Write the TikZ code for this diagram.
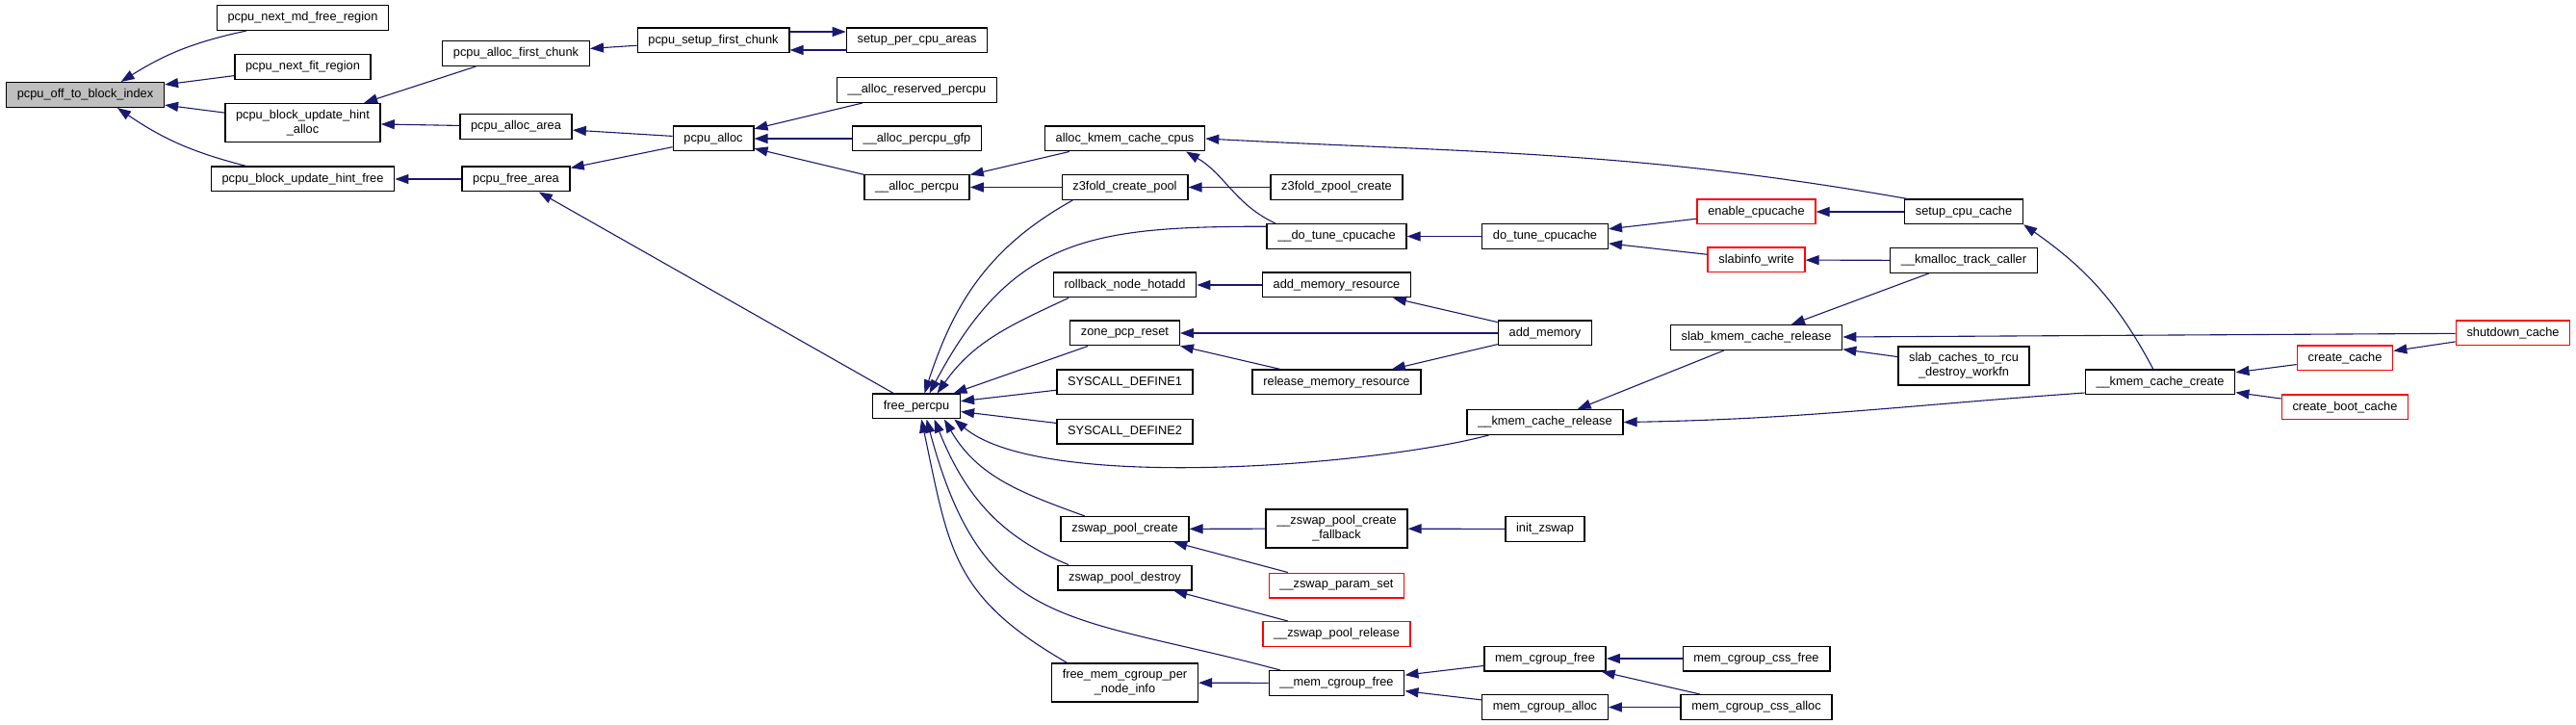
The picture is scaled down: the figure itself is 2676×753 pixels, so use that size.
\documentclass[tikz,border=0pt]{standalone}
\usepackage{fontspec}
\setmainfont{Liberation Sans}
\usetikzlibrary{arrows.meta}

\definecolor{edgeblue}{HTML}{191970}
\definecolor{rootgray}{HTML}{BFBFBF}

\tikzset{
  fn/.style={draw=black, line width=0.7pt, fill=white,
    font=\fontsize{6.4}{7.5}\selectfont, inner xsep=5.6pt, inner ysep=2pt,
    minimum height=12.8pt, align=center},
  fntwo/.style={fn, minimum height=20pt},
  fnred/.style={fn, draw=red},
  fnroot/.style={fn, fill=rootgray},
  call/.style={draw=edgeblue, line width=0.55pt, {Triangle[length=7pt,width=5pt]}-},
}

\begin{document}
\begin{tikzpicture}[x=0.5pt, y=-0.5pt] % 坐标按像素给出，y 轴向下

    \useasboundingbox (0,0) rectangle (2676,753);

    % 1. 根节点与第一列
    \node[fnroot] (off) at (88.5,98.5) {pcpu\_off\_to\_block\_index};

    % 2. 第二、三列
    \node[fn] (nextmd) at (314.5,18.5) {pcpu\_next\_md\_free\_region};
    \node[fn] (nextfit) at (314.5,69.5) {pcpu\_next\_fit\_region};
    \node[fntwo] (hintalloc) at (314.5,127.5) {pcpu\_block\_update\_hint\\\_alloc};
    \node[fn] (hintfree) at (314.5,186) {pcpu\_block\_update\_hint\_free};
    \node[fn] (firstchunk) at (536,55.5) {pcpu\_alloc\_first\_chunk};
    \node[fn] (allocarea) at (536,131.5) {pcpu\_alloc\_area};
    \node[fn] (freearea) at (536,186) {pcpu\_free\_area};

    % 3. 第四、五列
    \node[fn] (setupfirst) at (741,42) {pcpu\_setup\_first\_chunk};
    \node[fn] (pcpualloc) at (741,144) {pcpu\_alloc};
    \node[fn] (setupareas) at (952.5,42) {setup\_per\_cpu\_areas};
    \node[fn] (reserved) at (952.5,93.5) {\_\_alloc\_reserved\_percpu};
    \node[fn] (gfp) at (952.5,144) {\_\_alloc\_percpu\_gfp};
    \node[fn] (allocpercpu) at (952.5,194.5) {\_\_alloc\_percpu};
    \node[fn] (freepercpu) at (952,422) {free\_percpu};

    % 4. 第六列
    \node[fn] (kmemcpus) at (1168.5,144) {alloc\_kmem\_cache\_cpus};
    \node[fn] (z3create) at (1168.5,194.5) {z3fold\_create\_pool};
    \node[fn] (rollback) at (1168.5,296) {rollback\_node\_hotadd};
    \node[fn] (zonepcp) at (1168.5,346) {zone\_pcp\_reset};
    \node[fn] (sysone) at (1168.5,397) {SYSCALL\_DEFINE1};
    \node[fn] (systwo) at (1168.5,448) {SYSCALL\_DEFINE2};
    \node[fn] (zswapcreate) at (1168.5,549.5) {zswap\_pool\_create};
    \node[fn] (zswapdestroy) at (1168.5,600) {zswap\_pool\_destroy};
    \node[fntwo] (freememcg) at (1168.5,709) {free\_mem\_cgroup\_per\\\_node\_info};

    % 5. 第七列
    \node[fn] (z3zpool) at (1388.5,194.5) {z3fold\_zpool\_create};
    \node[fn] (dotunei) at (1388.5,245.5) {\_\_do\_tune\_cpucache};
    \node[fn] (addmemres) at (1388.5,296) {add\_memory\_resource};
    \node[fn] (relmemres) at (1388.5,397) {release\_memory\_resource};
    \node[fntwo] (fallback) at (1388.5,549) {\_\_zswap\_pool\_create\\\_fallback};
    \node[fnred] (paramset) at (1388.5,608) {\_\_zswap\_param\_set};
    \node[fnred] (poolrelease) at (1388.5,658.5) {\_\_zswap\_pool\_release};
    \node[fn] (memcgfreei) at (1388.5,709.5) {\_\_mem\_cgroup\_free};

    % 6. 第八列
    \node[fn] (dotune) at (1605,245.5) {do\_tune\_cpucache};
    \node[fn] (addmemory) at (1605,346) {add\_memory};
    \node[fn] (kmemrelease) at (1605,438.5) {\_\_kmem\_cache\_release};
    \node[fn] (initzswap) at (1605,549.5) {init\_zswap};
    \node[fn] (memcgfree) at (1605,684) {mem\_cgroup\_free};
    \node[fn] (memcgalloc) at (1605,734.5) {mem\_cgroup\_alloc};

    % 7. 第九、十列
    \node[fnred] (enablecpu) at (1824.5,220) {enable\_cpucache};
    \node[fnred] (slabinfo) at (1824.5,270) {slabinfo\_write};
    \node[fn] (slabrelease) at (1824.5,350.5) {slab\_kmem\_cache\_release};
    \node[fn] (cssfree) at (1824.5,684) {mem\_cgroup\_css\_free};
    \node[fn] (cssalloc) at (1824.5,734.5) {mem\_cgroup\_css\_alloc};
    \node[fn] (setupcpu) at (2040,220) {setup\_cpu\_cache};
    \node[fn] (kmalloctrack) at (2040,270.5) {\_\_kmalloc\_track\_caller};
    \node[fntwo] (rcu) at (2040,380) {slab\_caches\_to\_rcu\\\_destroy\_workfn};

    % 8. 最右几列
    \node[fn] (kmemcreate) at (2244,397) {\_\_kmem\_cache\_create};
    \node[fnred] (createcache) at (2436,372) {create\_cache};
    \node[fnred] (bootcache) at (2436,423) {create\_boot\_cache};
    \node[fnred] (shutdown) at (2610.5,346) {shutdown\_cache};

    % 9. 调用边（箭头在被调用者一侧）
    \draw[call] (off.20) to[bend left=10] (nextmd.193);
    \draw[call] (off) -- (nextfit);
    \draw[call] (off) -- (hintalloc);
    \draw[call] (off.338) to[bend right=10] (hintfree.167);
    \draw[call] (hintalloc) -- (firstchunk);
    \draw[call] (hintalloc) -- (allocarea);
    \draw[call] (hintfree) -- (freearea);
    \draw[call] (firstchunk) -- (setupfirst);
    \draw[call] ([yshift=4.5pt]setupareas.west) -- ([yshift=4.5pt]setupfirst.east);
    \draw[call] ([yshift=-5pt]setupfirst.east) -- ([yshift=-5pt]setupareas.west);
    \draw[call] (allocarea) -- (pcpualloc);
    \draw[call] (freearea) -- (pcpualloc);
    \draw[call] (freearea) -- (freepercpu);
    \draw[call] (pcpualloc) -- (reserved);
    \draw[call] (pcpualloc) -- (gfp);
    \draw[call] (pcpualloc) -- (allocpercpu);
    \draw[call] (allocpercpu) -- (kmemcpus);
    \draw[call] (allocpercpu) -- (z3create);
    \draw[call] (kmemcpus.east) to[out=-3, in=170] (setupcpu.167);
    \draw[call] (kmemcpus.348) to[out=-30, in=155] (dotunei.168);
    \draw[call] (z3create) -- (z3zpool);
    \draw[call] (dotunei) -- (dotune);
    \draw[call] (dotune) -- (enablecpu);
    \draw[call] (dotune) -- (slabinfo);
    \draw[call] (enablecpu) -- (setupcpu);
    \draw[call] (slabinfo) -- (kmalloctrack);
    \draw[call] (slabrelease) -- (kmalloctrack);
    \draw[call] (slabrelease) -- (shutdown);
    \draw[call] (slabrelease) -- (rcu);
    \draw[call] (kmemrelease) -- (slabrelease);
    \draw[call] (kmemrelease.east) to[out=1, in=184] (kmemcreate.188);
    \draw[call] (setupcpu.348) to[out=-35, in=118] (kmemcreate.118);
    \draw[call] (kmemcreate) -- (createcache);
    \draw[call] (kmemcreate) -- (bootcache);
    \draw[call] (createcache) -- (shutdown);
    \draw[call] (rollback) -- (addmemres);
    \draw[call] (addmemres) -- (addmemory);
    \draw[call] (zonepcp) -- (addmemory);
    \draw[call] (zonepcp) -- (relmemres);
    \draw[call] (relmemres) -- (addmemory);

    % 10. 汇入 free_percpu 的边
    \draw[call] (freepercpu.58) to[out=72, in=209] (z3create.194);
    \draw[call] (freepercpu.45) to[out=62, in=180, looseness=1.2] (dotunei.172);
    \draw[call] (freepercpu.32) to[out=55, in=205] (rollback.193);
    \draw[call] (freepercpu) -- (zonepcp);
    \draw[call] (freepercpu) -- (sysone);
    \draw[call] (freepercpu) -- (systwo);
    \draw[call] (freepercpu.341) to[out=-40, in=195, looseness=0.55] (kmemrelease.193);
    \draw[call] (freepercpu.335) to[out=-60, in=160] (zswapcreate.162);
    \draw[call] (freepercpu.324) to[out=-68, in=158] (zswapdestroy.167);
    \draw[call] (freepercpu.308) to[out=-75, in=165, looseness=1.3] (memcgfreei.167);
    \draw[call] (freepercpu.291) to[out=-78, in=150, looseness=1.2] (freememcg.161);

    % 11. 下半部分
    \draw[call] (zswapcreate) -- (fallback);
    \draw[call] (fallback) -- (initzswap);
    \draw[call] (zswapcreate) -- (paramset);
    \draw[call] (zswapdestroy) -- (poolrelease);
    \draw[call] (freememcg) -- (memcgfreei);
    \draw[call] (memcgfreei) -- (memcgfree);
    \draw[call] (memcgfreei) -- (memcgalloc);
    \draw[call] (memcgfree) -- (cssfree);
    \draw[call] (memcgfree) -- (cssalloc);
    \draw[call] (memcgalloc) -- (cssalloc);

\end{tikzpicture}
\end{document}
